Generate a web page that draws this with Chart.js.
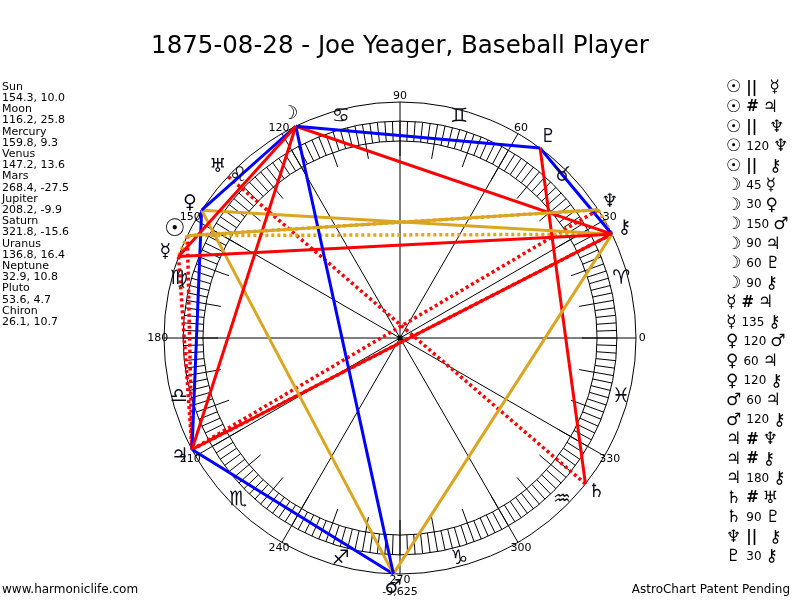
<!DOCTYPE html>
<html>
<head>
<meta charset="utf-8">
<script src="https://cdn.jsdelivr.net/npm/chart.js@4.4.0/dist/chart.umd.min.js"></script>
<style>
  body { margin: 0; background: #fff; }
</style>
</head>
<body>
<canvas id="wheel" width="800" height="600"></canvas>
<script>
// Datos de la carta
const chartTitle = "1875-08-28 - Joe Yeager, Baseball Player";
const planetNames = ["Sun", "Moon", "Mercury", "Venus", "Mars", "Jupiter", "Saturn", "Uranus", "Neptune", "Pluto", "Chiron"];
const planetLongitudes = [154.3, 116.2, 159.8, 147.2, 268.4, 208.2, 321.8, 136.8, 32.9, 53.6, 26.1];
const planetDeclinations = [10.0, 25.8, 9.3, 13.6, -27.5, -9.9, -15.6, 16.4, 10.8, 4.7, 10.7];
const planetGlyphs = ["☉", "☽", "☿", "♀", "♂", "♃", "♄", "♅", "♆", "♇", "⚷"];
const signGlyphs = ["♈", "♉", "♊", "♋", "♌", "♍", "♎", "♏", "♐", "♑", "♒", "♓"];
const degreeLabels = ["0", "30", "60", "90", "120", "150", "180", "210", "240", "270", "300", "330"];
const bottomNote = "-9,625";

// Aspectos: planeta 1, tipo, planeta 2 (mismo orden que la lista de la derecha)
const aspectFrom = ["Sun", "Sun", "Sun", "Sun", "Sun", "Moon", "Moon", "Moon", "Moon", "Moon", "Moon", "Mercury", "Mercury",
  "Venus", "Venus", "Venus", "Mars", "Mars", "Jupiter", "Jupiter", "Jupiter", "Saturn", "Saturn", "Neptune", "Pluto"];
const aspectType = ["||", "#", "||", "120", "||", "45", "30", "150", "90", "60", "90", "#", "135",
  "120", "60", "120", "60", "120", "#", "#", "180", "#", "90", "||", "30"];
const aspectTo = ["Mercury", "Jupiter", "Neptune", "Neptune", "Chiron", "Mercury", "Venus", "Mars", "Jupiter", "Pluto", "Chiron", "Jupiter", "Chiron",
  "Mars", "Jupiter", "Chiron", "Jupiter", "Chiron", "Neptune", "Chiron", "Chiron", "Uranus", "Pluto", "Chiron", "Chiron"];

// Estilo de cada tipo de aspecto
function aspectStyle(type) {
  if (type === "||") return { color: "#DAA520", dash: [3, 3] };
  if (type === "#") return { color: "#FF0000", dash: [3, 3] };
  if (type === "120") return { color: "#DAA520", dash: [] };
  if (type === "30" || type === "60" || type === "150") return { color: "#0000FF", dash: [] };
  return { color: "#FF0000", dash: [] };
}

function lonToXY(lon, r = 1) {
  const a = lon * Math.PI / 180;
  return { x: r * Math.cos(a), y: r * Math.sin(a) };
}

function planetIndex(name) {
  return planetNames.indexOf(name);
}

// Un dataset por aspecto (línea entre los dos planetas)
const aspectDatasets = aspectFrom.map((p1, i) => {
  const style = aspectStyle(aspectType[i]);
  const a = lonToXY(planetLongitudes[planetIndex(p1)]);
  const b = lonToXY(planetLongitudes[planetIndex(aspectTo[i])]);
  return {
    label: p1 + " " + aspectType[i] + " " + aspectTo[i],
    data: [a, b],
    showLine: true,
    borderColor: style.color,
    borderWidth: style.dash.length ? 3.5 : 3,
    borderDash: style.dash,
    pointRadius: 0,
    clip: false,
    order: style.dash.length ? 1 : 0
  };
});

// Radios relativos al círculo exterior
const R_TICK = 0.771, R_BAND_IN = 0.835, R_BAND_OUT = 0.919;
const R_SIGN = 0.97, R_DEG = 1.026, R_PLANET = 1.059;

const wheelPlugin = {
  id: 'wheel',
  beforeDraw(chart) {
    const ctx = chart.ctx;
    ctx.save();
    ctx.fillStyle = '#fff';
    ctx.fillRect(0, 0, chart.width, chart.height);
    ctx.restore();
  },
  beforeDatasetsDraw(chart) {
    const ctx = chart.ctx;
    const xs = chart.scales.x, ys = chart.scales.y;
    const cx = xs.getPixelForValue(0), cy = ys.getPixelForValue(0);
    const R = xs.getPixelForValue(1) - cx;
    const pt = (r, deg) => {
      const a = deg * Math.PI / 180;
      return [cx + r * R * Math.cos(a), cy - r * R * Math.sin(a)];
    };
    ctx.save();
    ctx.strokeStyle = '#000';
    ctx.lineWidth = 1;
    // círculos
    [1, R_BAND_OUT, R_BAND_IN].forEach(r => {
      ctx.beginPath();
      ctx.arc(cx, cy, r * R, 0, Math.PI * 2);
      ctx.stroke();
    });
    // rayado cada 2 grados y marcas cada 10
    for (let d = 0; d < 360; d += 2) {
      const inner = (d % 10 === 0) ? R_TICK : R_BAND_IN;
      const [x1, y1] = pt(inner, d);
      const [x2, y2] = pt(R_BAND_OUT, d);
      ctx.beginPath();
      ctx.moveTo(x1, y1);
      ctx.lineTo(x2, y2);
      ctx.stroke();
    }
    // líneas radiales cada 30 grados
    for (let d = 0; d < 360; d += 30) {
      const [x2, y2] = pt(1, d);
      ctx.beginPath();
      ctx.moveTo(cx, cy);
      ctx.lineTo(x2, y2);
      ctx.stroke();
    }
    ctx.fillStyle = '#000';
    ctx.beginPath();
    ctx.arc(cx, cy, 2.5, 0, Math.PI * 2);
    ctx.fill();
    ctx.restore();
  },
  afterDraw(chart) {
    const ctx = chart.ctx;
    const xs = chart.scales.x, ys = chart.scales.y;
    const cx = xs.getPixelForValue(0), cy = ys.getPixelForValue(0);
    const R = xs.getPixelForValue(1) - cx;
    const pt = (r, deg) => {
      const a = deg * Math.PI / 180;
      return [cx + r * R * Math.cos(a), cy - r * R * Math.sin(a)];
    };
    ctx.save();
    ctx.fillStyle = '#000';
    ctx.textAlign = 'center';
    ctx.textBaseline = 'middle';

    // etiquetas de grados
    ctx.font = '11px "DejaVu Sans"';
    degreeLabels.forEach((lab, i) => {
      const [x, y] = pt(R_DEG, i * 30);
      ctx.fillText(lab, x, y);
    });
    ctx.fillText(bottomNote, cx, cy + R + 18);

    // signos
    ctx.font = 'bold 20px "DejaVu Sans"';
    ctx.fillStyle = '#0a0a1a';
    signGlyphs.forEach((g, i) => {
      const [x, y] = pt(R_SIGN, i * 30 + 15);
      ctx.fillText(g + '\uFE0E', x, y);
    });

    // planetas
    planetGlyphs.forEach((g, i) => {
      const [x, y] = pt(R_PLANET, planetLongitudes[i]);
      ctx.font = (i === 0 ? 'bold 24px' : 'bold 19px') + ' "DejaVu Sans"';
      ctx.fillText(g + '\uFE0E', x, y);
    });

    // título
    ctx.fillStyle = '#000';
    ctx.font = '24.5px "DejaVu Sans"';
    ctx.fillText(chartTitle, 400, 47);

    // lista de posiciones
    ctx.textAlign = 'left';
    ctx.font = '11px "DejaVu Sans"';
    planetNames.forEach((name, i) => {
      const y = 87 + i * 2 * 11.2;
      ctx.fillText(name, 2, y);
      ctx.fillText(planetLongitudes[i].toFixed(1) + ", " + planetDeclinations[i].toFixed(1), 2, y + 11.2);
    });

    // lista de aspectos
    aspectFrom.forEach((p1, i) => {
      const y = 88 + i * 19.54;
      let x = 726;
      ctx.font = 'bold 17px "DejaVu Sans"';
      ctx.fillText(planetGlyphs[planetIndex(p1)] + '\uFE0E', x, y);
      x += ctx.measureText(planetGlyphs[planetIndex(p1)]).width + 5;
      const t = aspectType[i];
      ctx.font = (t === '||' || t === '#') ? 'bold 15px "DejaVu Sans"' : '12px "DejaVu Sans"';
      ctx.fillText(t, x, y);
      x += ctx.measureText(t).width + ((t === '||') ? 12 : 4);
      ctx.font = 'bold 17px "DejaVu Sans"';
      ctx.fillText(planetGlyphs[planetIndex(aspectTo[i])] + '\uFE0E', x, y);
    });

    // pie
    ctx.font = '12px "DejaVu Sans"';
    ctx.fillText("www.harmoniclife.com", 2, 590);
    ctx.textAlign = 'right';
    ctx.fillText("AstroChart Patent Pending", 790, 590);
    ctx.restore();
  }
};

const chart = new Chart(document.getElementById('wheel'), {
  type: 'scatter',
  data: { datasets: aspectDatasets },
  options: {
    responsive: false,
    animation: false,
    devicePixelRatio: 1,
    layout: { padding: { left: 164, right: 164, top: 102, bottom: 26 } },
    scales: {
      x: { type: 'linear', min: -1, max: 1, display: false },
      y: { type: 'linear', min: -1, max: 1, display: false }
    },
    plugins: {
      legend: { display: false },
      title: { display: false },
      tooltip: { enabled: false }
    }
  },
  plugins: [wheelPlugin]
});
</script>
</body>
</html>
